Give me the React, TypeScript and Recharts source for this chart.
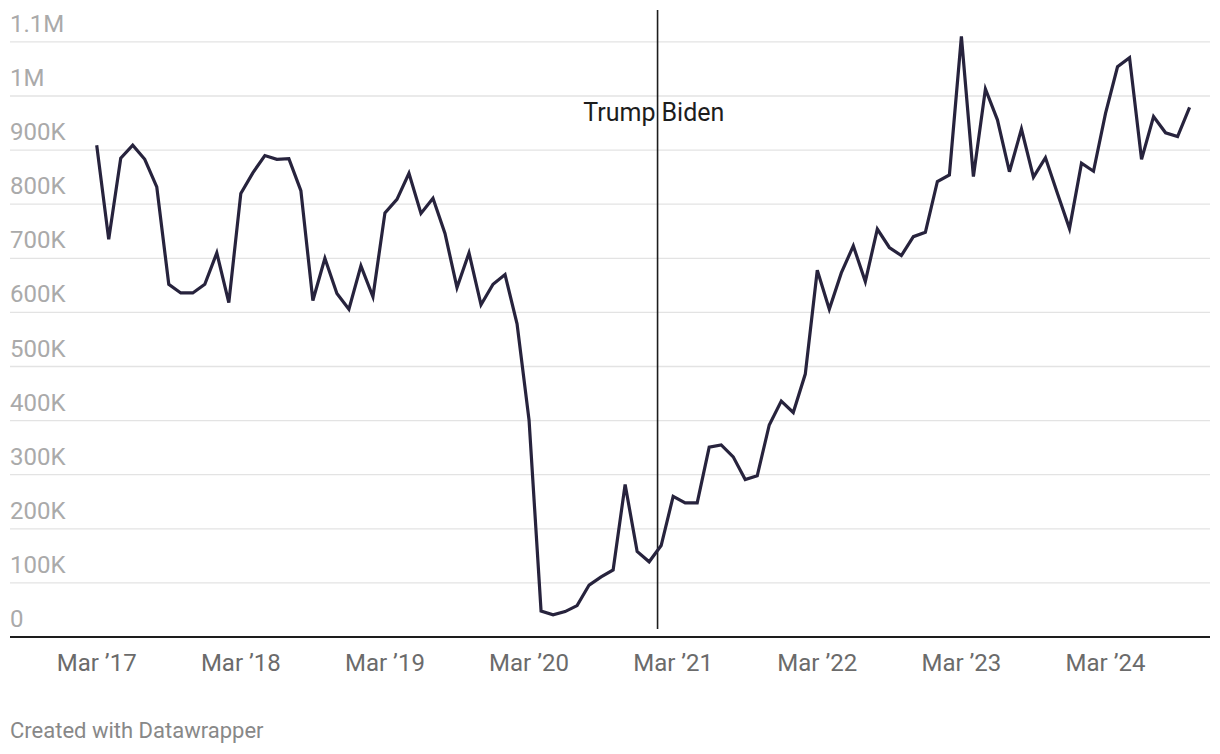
import React from 'react';
import {
  LineChart,
  Line,
  XAxis,
  YAxis,
  CartesianGrid,
  ReferenceLine,
} from 'recharts';

// monthly values, Mar 2017 .. Oct 2024
const VALUES = [
  909, 735, 885, 909, 883, 832, 652, 636, 636, 652, 710, 618,
  820, 858, 890, 883, 884, 825, 622, 700, 635, 606, 686, 629,
  784, 809, 857, 783, 811, 746, 646, 710, 614, 652, 670, 579,
  401, 48, 41, 47, 58, 96, 111, 124, 282, 158, 139, 169,
  260, 248, 248, 351, 355, 333, 291, 298, 392, 436, 415, 486,
  678, 606, 673, 723, 657, 754, 720, 705, 740, 748, 842, 854,
  1110, 851, 1013, 956, 860, 939, 850, 886, 820, 755, 876, 861,
  968, 1054, 1071, 883, 962, 932, 925, 979,
];

const X_TICKS = [0, 12, 24, 36, 48, 60, 72, 84];
const X_TICK_LABELS = ['Mar ’17', 'Mar ’18', 'Mar ’19', 'Mar ’20', 'Mar ’21', 'Mar ’22', 'Mar ’23', 'Mar ’24'];
const Y_TICKS = [0, 100000, 200000, 300000, 400000, 500000, 600000, 700000, 800000, 900000, 1000000, 1100000];
const Y_TICK_LABELS = ['0', '100K', '200K', '300K', '400K', '500K', '600K', '700K', '800K', '900K', '1M', '1.1M'];

// Jan 20, 2021 in months since Mar 2017
const INAUGURATION = 46.7;
const Y_MAX = 1159000;

const data = VALUES.map((v, i) => ({ i, value: v * 1000 }));

const FONT = 'Roboto, sans-serif';

const YTick = (props: any) => {
  const { y, payload } = props;
  const idx = Y_TICKS.indexOf(Number(payload.value));
  return (
    <text x={10} y={y - 10} fill="#aaaaaa" fontSize={24} fontFamily={FONT}>
      {Y_TICK_LABELS[idx]}
    </text>
  );
};

const XTick = (props: any) => {
  const { x, payload } = props;
  const idx = X_TICKS.indexOf(Number(payload.value));
  return (
    <text x={x} y={671} textAnchor="middle" fill="#6b6b6b" fontSize={24} fontFamily={FONT}>
      {X_TICK_LABELS[idx]}
    </text>
  );
};

const PresidentLabel = (props: any) => {
  const x = props.viewBox?.x ?? 0;
  return (
    <g fontFamily={FONT} fontSize={25} fill="#1d1d1d">
      <text x={x - 2} y={121} textAnchor="end">Trump</text>
      <text x={x + 4} y={121} textAnchor="start">Biden</text>
    </g>
  );
};

export default function App() {
  return (
    <div style={{ position: 'absolute', left: 0, top: 0, width: 1220, height: 754, background: '#fff' }}>
      <LineChart
        width={1220}
        height={754}
        data={data}
        margin={{ top: 10, right: 10, left: 9, bottom: 116 }}
      >
        <CartesianGrid
          horizontal
          vertical={false}
          horizontalValues={Y_TICKS}
          stroke="#e3e3e3"
          strokeWidth={1.3}
        />
        <XAxis
          type="number"
          dataKey="i"
          height={1}
          domain={[-7.22, 92.7]}
          ticks={X_TICKS}
          allowDataOverflow
          axisLine={false}
          tickLine={false}
          tick={<XTick />}
          interval={0}
        />
        <YAxis
          width={1}
          type="number"
          domain={[0, Y_MAX]}
          ticks={Y_TICKS}
          axisLine={false}
          tickLine={false}
          tick={<YTick />}
          interval={0}
        />
        <ReferenceLine y={0} stroke="#1d1d1d" strokeWidth={2.2} />
        <ReferenceLine
          segment={[
            { x: INAUGURATION, y: Y_MAX },
            { x: INAUGURATION, y: 14800 },
          ]}
          stroke="#1d1d1d"
          strokeWidth={1.6}
        />
        <ReferenceLine x={INAUGURATION} stroke="none" label={<PresidentLabel />} />
        <Line
          type="linear"
          dataKey="value"
          stroke="#27233d"
          strokeWidth={3.2}
          dot={false}
          isAnimationActive={false}
        />
      </LineChart>
      <svg width={1220} height={754} style={{ position: 'absolute', left: 0, top: 0, pointerEvents: 'none' }}>
        <text x={10} y={738} fill="#888888" fontSize={22} fontFamily={FONT}>
          Created with Datawrapper
        </text>
      </svg>
    </div>
  );
}
